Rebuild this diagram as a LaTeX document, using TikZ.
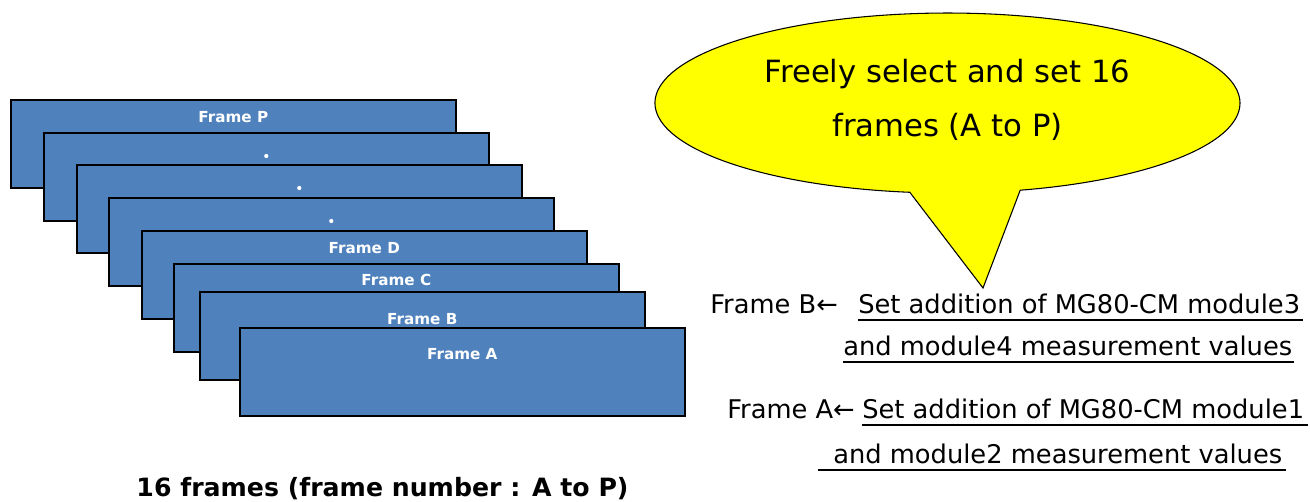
\documentclass[tikz,border=0pt]{standalone}
\usepackage{fontspec}
\setmainfont{DejaVu Sans}
\usetikzlibrary{calc}
\definecolor{frameblue}{HTML}{4F81BD}
\definecolor{calloutyellow}{HTML}{FFFF00}
\begin{document}
\begin{tikzpicture}[x=0.75pt,y=-0.75pt,
  framebox/.style={draw=black, line width=1.2pt, fill=frameblue, rectangle,
    minimum width=333.75pt, minimum height=66pt, inner sep=0pt, anchor=north west},
  framelabel/.style={text=white, font=\fontsize{11.4}{13}\selectfont\bfseries, inner sep=0pt, anchor=base},
  dotmark/.style={circle, fill=white, inner sep=0pt, minimum size=3.2pt},
  calloutshape/.style={draw=black, line width=0.8pt, fill=calloutyellow, line join=miter},
  callouttext/.style={font=\fontsize{23}{40.5}\selectfont, align=center, inner sep=0pt},
  righttext/.style={font=\fontsize{19.3}{23}\selectfont, inner sep=0pt, anchor=base west},
  uline/.style={draw=black, line width=1.5pt},
  captiontext/.style={font=\fontsize{18.9}{22}\selectfont\bfseries, inner sep=0pt, anchor=base}]

\useasboundingbox (0,0) rectangle (1310,501);

% stacked frames (back to front)
\node[framebox] (fP) at (10,99) {};
\node[framelabel] (lP) at ($(fP.north)+(0,23)$) {Frame P};
\node[framebox] (fO) at (43,132) {};
\node[dotmark] (dO) at ($(fO.north)+(0,24)$) {};
\node[framebox] (fN) at (76,164) {};
\node[dotmark] (dN) at ($(fN.north)+(0,24)$) {};
\node[framebox] (fM) at (108,197) {};
\node[dotmark] (dM) at ($(fM.north)+(0,24)$) {};
\node[framebox] (fD) at (141,230) {};
\node[framelabel] (lD) at ($(fD.north)+(0,23)$) {Frame D};
\node[framebox] (fC) at (173,263) {};
\node[framelabel] (lC) at ($(fC.north)+(0,22)$) {Frame C};
\node[framebox] (fB) at (199,291) {};
\node[framelabel] (lB) at ($(fB.north)+(0,33)$) {Frame B};
\node[framebox] (fA) at (239,327) {};
\node[framelabel] (lA) at ($(fA.north)+(0,32)$) {Frame A};

\node[captiontext] (caption) at (382.5,496) {16 frames (frame number : A to P)};

% callout balloon
\path[calloutshape] (1020.2,190.2)
  arc[start angle=75.6, end angle=-262.6, x radius=292.5, y radius=90]
  -- (983,288) -- cycle;
\node[callouttext] (callout) at (947.5,100) {Freely select and set 16\\frames (A to P)};

% right-hand notes
\node[righttext] (bhead) at (710,313) {Frame B←};
\node[righttext] (bone) at (858,313) {Set addition of MG80-CM module3};
\node[righttext] (btwo) at (843,355) {and module4 measurement values};
\node[righttext] (ahead) at (727,418) {Frame A←};
\node[righttext] (aone) at (862,418) {Set addition of MG80-CM module1};
\node[righttext] (atwo) at (833,463) {and module2 measurement values};

\draw[uline] ($(bone.base west)+(0,6.5)$) -- ($(bone.base east)+(3,6.5)$);
\draw[uline] ($(btwo.base west)+(0,6.5)$) -- ($(btwo.base east)+(1,6.5)$);
\draw[uline] ($(aone.base west)+(0,6.5)$) -- ($(aone.base east)+(4,6.5)$);
\draw[uline] ($(atwo.base west)+(-15,6.5)$) -- ($(atwo.base east)+(3,6.5)$);
\end{tikzpicture}
\end{document}
